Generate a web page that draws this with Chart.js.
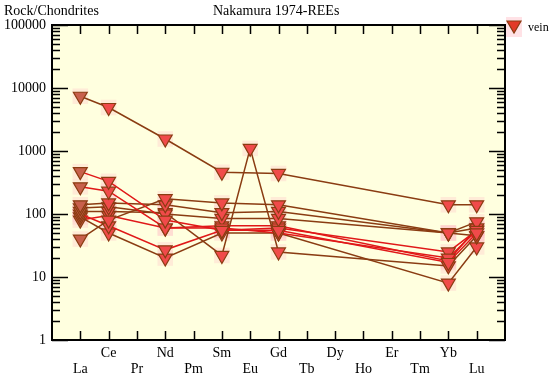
<!DOCTYPE html>
<html><head><meta charset="utf-8">
<script src="https://cdn.jsdelivr.net/npm/chart.js@4.4.1/dist/chart.umd.min.js"></script>
<style>
html,body{margin:0;padding:0;background:#fff;}
#wrap{position:relative;width:550px;height:376px;overflow:hidden;}
canvas{position:absolute;left:0;top:0;}
.t{position:absolute;font-family:"Liberation Serif","Times New Roman",serif;font-size:14px;color:#000;white-space:nowrap;line-height:16px;}
</style></head><body>
<div id="wrap">
<canvas id="c" width="550" height="376"></canvas>
<div class="t" style="left:4px;top:3px;">Rock/Chondrites</div>
<div class="t" style="left:213px;top:3px;">Nakamura 1974-REEs</div>
<div class="t" style="left:528px;top:19px;font-size:12px;">vein</div>
</div>
<script>
// ---- data ----
const elements = ['La','Ce','Pr','Nd','Pm','Sm','Eu','Gd','Tb','Dy','Ho','Er','Tm','Yb','Lu'];
const measured = ['La','Ce','Nd','Sm','Eu','Gd','Yb','Lu'];
const yDecades = [1,10,100,1000,10000,100000];
const sampleA = [7400, 4900, 1550, 460, null, 440, 140, 140];
const sampleB = [470, 330, 80, 55, null, 55, 17, 50];
const sampleC = [270, 230, 60, 60, null, 50, 20, 55];
const sampleD = [40, 80, 175, 150, null, 140, 50, 75];
const sampleE = [140, 150, 140, 105, null, 110, 50, 60];
const sampleF = [125, 130, 100, 85, null, 85, 50, 45];
const sampleG = [110, 110, 105, 22, 1100, 25, 15, 45];
const sampleH = [100, 65, 27, 55, null, 60, 25, 55];
const sampleI = [90, 50, 20, 50, null, 50, 8, 30];
const sampleJ = [80, 95, 60, 65, null, 65, 18, 60];
const samples = [sampleA, sampleB, sampleC, sampleD, sampleE, sampleF, sampleG, sampleH, sampleI, sampleJ];
const seriesName = 'vein';

// ---- styles ----
const BROWN = '#8a3c12';
const RED = '#e01818';
const lineColors = [BROWN, RED, RED, BROWN, BROWN, BROWN, BROWN, RED, BROWN, RED];
const FONT = '"Liberation Serif","Times New Roman",serif';

function toPoints(arr){
  const pts = [];
  arr.forEach((v,i)=>{ if(v!==null) pts.push({x: elements.indexOf(measured[i])+1, y: v}); });
  return pts;
}

const datasets = samples.map((s,k)=>({
  label: seriesName,
  data: toPoints(s),
  showLine: true,
  borderColor: lineColors[k],
  borderWidth: 1.5,
  pointStyle: 'triangle',
  pointRotation: 180,
  pointRadius: 8,
  pointHoverRadius: 8,
  pointBackgroundColor: ctx => (ctx.raw && ctx.raw.x === 1) ? '#c8604c' : '#f04a4a',
  pointBorderColor: BROWN,
  pointBorderWidth: 1.2,
  order: 1
}));
// pale halo behind markers
datasets.push({
  label: 'halo',
  data: samples.flatMap(toPoints),
  showLine: false,
  pointStyle: 'rect',
  pointRadius: 11,
  pointBackgroundColor: 'rgba(255,190,200,0.3)',
  pointBorderWidth: 0,
  pointBorderColor: 'rgba(0,0,0,0)',
  order: 100
});

const frame = {
  id: 'frame',
  beforeDraw(chart){
    const {ctx, chartArea:a} = chart;
    ctx.save();
    ctx.fillStyle = '#ffffdf';
    ctx.fillRect(a.left, a.top, a.right-a.left, a.bottom-a.top);
    ctx.restore();
  },
  beforeDatasetsDraw(chart){
    const {ctx, chartArea:a, scales} = chart;
    const xs = scales.x, ys = scales.y;
    ctx.save();
    ctx.strokeStyle = '#000';
    ctx.lineWidth = 1.5;
    ctx.beginPath();
    for(let d=1; d<=100000; d*=10){
      for(let m=1; m<=9; m++){
        const v = m*d; if(v>100000) break;
        const y = Math.round(ys.getPixelForValue(v))+0.5;
        const len = m===1 ? 16 : 8;
        ctx.moveTo(a.left, y); ctx.lineTo(a.left+len, y);
        ctx.moveTo(a.right, y); ctx.lineTo(a.right-len, y);
      }
    }
    elements.forEach((e,i)=>{
      const x = Math.round(xs.getPixelForValue(i+1))+0.5;
      ctx.moveTo(x, a.top); ctx.lineTo(x, a.top+9);
      ctx.moveTo(x, a.bottom); ctx.lineTo(x, a.bottom-9);
    });
    ctx.stroke();
    ctx.lineWidth = 2;
    ctx.strokeRect(a.left, a.top, a.right-a.left, a.bottom-a.top);
    ctx.restore();
  },
  afterDraw(chart){
    const ctx = chart.ctx;
    ctx.save();
    ctx.fillStyle = 'rgba(255,190,200,0.45)';
    ctx.fillRect(506, 17, 16, 20);
    ctx.beginPath();
    ctx.moveTo(507, 21); ctx.lineTo(521, 21); ctx.lineTo(514, 33); ctx.closePath();
    ctx.fillStyle = '#e23a28'; ctx.fill();
    ctx.strokeStyle = BROWN; ctx.lineWidth = 1.2; ctx.stroke();
    ctx.restore();
  }
};

new Chart(document.getElementById('c'), {
  type: 'scatter',
  data: { datasets },
  options: {
    responsive: false,
    animation: false,
    events: [],
    layout: { padding: { top: 25, right: 45, left: 0, bottom: 0 } },
    plugins: { legend: { display: false }, tooltip: { enabled: false } },
    scales: {
      x: {
        type: 'linear', min: 0, max: 16,
        afterBuildTicks: s => { s.ticks = elements.map((e,i)=>({value: i+1})); },
        afterFit: s => { s.height = 36; },
        grid: { display: false, drawTicks: false },
        border: { display: false },
        ticks: {
          autoSkip: false, maxRotation: 0, minRotation: 0, padding: 5,
          color: '#000', font: { family: FONT, size: 14, lineHeight: 1.15 },
          callback: (v) => { const i = Math.round(v)-1; const n = elements[i]; return (i % 2 === 1) ? [n, ''] : ['', n]; }
        }
      },
      y: {
        type: 'logarithmic', min: 1, max: 100000,
        afterBuildTicks: s => { s.ticks = yDecades.map(v=>({value: v})); },
        afterFit: s => { s.width = 52; },
        grid: { display: false, drawTicks: false },
        border: { display: false },
        ticks: {
          padding: 6, color: '#000', font: { family: FONT, size: 14 },
          callback: v => String(v)
        }
      }
    }
  },
  plugins: [frame]
});
</script>
</body></html>
